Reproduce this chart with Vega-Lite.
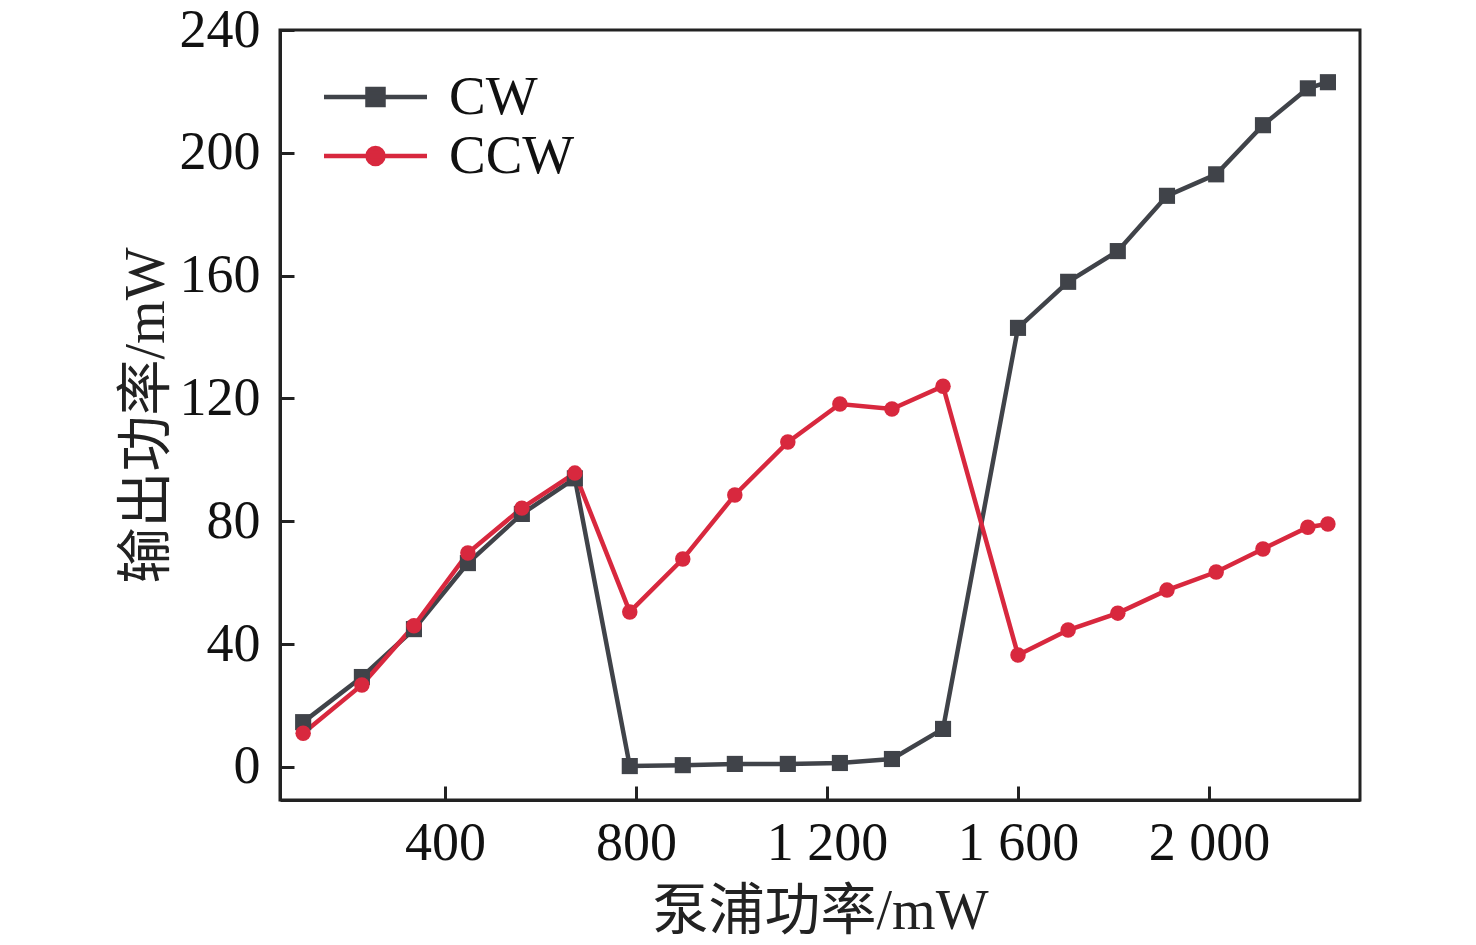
{
  "$schema": "https://vega.github.io/schema/vega-lite/v6.json",
  "autosize": "none",
  "width": 1080,
  "height": 770,
  "padding": {"left": 280, "top": 30, "right": 116, "bottom": 145},
  "background": "white",
  "config": {
    "view": {"stroke": "#222222", "strokeWidth": 3},
    "axis": {
      "labelFont": "Liberation Serif",
      "labelFontSize": 54,
      "labelColor": "#111111",
      "titleFont": "Liberation Serif, Noto Sans CJK SC",
      "titleFontSize": 56,
      "titleFontWeight": "normal",
      "titleColor": "#222222",
      "domainColor": "#222222",
      "domainWidth": 3,
      "tickColor": "#222222",
      "tickWidth": 3,
      "grid": false
    },
    "legend": {
      "labelFont": "Liberation Serif",
      "labelFontSize": 55,
      "labelColor": "#111111",
      "padding": 0
    }
  },
  "data": {
    "values": [
      {"x": 103, "y": 14.6, "series": "CW"},
      {"x": 226, "y": 29.3, "series": "CW"},
      {"x": 335, "y": 44.9, "series": "CW"},
      {"x": 448, "y": 66.4, "series": "CW"},
      {"x": 561, "y": 82.4, "series": "CW"},
      {"x": 672, "y": 94.0, "series": "CW"},
      {"x": 787, "y": 0.3, "series": "CW"},
      {"x": 898, "y": 0.6, "series": "CW"},
      {"x": 1007, "y": 1.0, "series": "CW"},
      {"x": 1118, "y": 1.0, "series": "CW"},
      {"x": 1227, "y": 1.3, "series": "CW"},
      {"x": 1336, "y": 2.6, "series": "CW"},
      {"x": 1443, "y": 12.4, "series": "CW"},
      {"x": 1600, "y": 143.0, "series": "CW"},
      {"x": 1705, "y": 158.0, "series": "CW"},
      {"x": 1809, "y": 168.0, "series": "CW"},
      {"x": 1912, "y": 186.0, "series": "CW"},
      {"x": 2015, "y": 193.0, "series": "CW"},
      {"x": 2113, "y": 209.0, "series": "CW"},
      {"x": 2207, "y": 221.0, "series": "CW"},
      {"x": 2249, "y": 223.0, "series": "CW"},
      {"x": 103, "y": 11.0, "series": "CCW"},
      {"x": 226, "y": 26.7, "series": "CCW"},
      {"x": 335, "y": 46.0, "series": "CCW"},
      {"x": 448, "y": 69.7, "series": "CCW"},
      {"x": 561, "y": 84.3, "series": "CCW"},
      {"x": 672, "y": 95.7, "series": "CCW"},
      {"x": 787, "y": 50.5, "series": "CCW"},
      {"x": 898, "y": 67.7, "series": "CCW"},
      {"x": 1007, "y": 88.6, "series": "CCW"},
      {"x": 1118, "y": 105.8, "series": "CCW"},
      {"x": 1227, "y": 118.2, "series": "CCW"},
      {"x": 1336, "y": 116.6, "series": "CCW"},
      {"x": 1443, "y": 124.0, "series": "CCW"},
      {"x": 1600, "y": 36.5, "series": "CCW"},
      {"x": 1705, "y": 44.6, "series": "CCW"},
      {"x": 1809, "y": 50.1, "series": "CCW"},
      {"x": 1912, "y": 57.6, "series": "CCW"},
      {"x": 2015, "y": 63.5, "series": "CCW"},
      {"x": 2113, "y": 71.0, "series": "CCW"},
      {"x": 2207, "y": 78.1, "series": "CCW"},
      {"x": 2249, "y": 79.1, "series": "CCW"}
    ]
  },
  "encoding": {
    "x": {
      "field": "x",
      "type": "quantitative",
      "scale": {"domain": [54.5, 2316.2], "nice": false, "zero": false},
      "axis": {
        "title": "泵浦功率/mW",
        "values": [400, 800, 1200, 1600, 2000],
        "labelExpr": "datum.value >= 1000 ? floor(datum.value / 1000) + ' ' + format(datum.value % 1000, '03d') : datum.label",
        "tickSize": -14,
        "labelPadding": 30,
        "titlePadding": 14
      }
    },
    "y": {
      "field": "y",
      "type": "quantitative",
      "scale": {"domain": [-10.75, 240], "nice": false, "zero": false},
      "axis": {
        "title": "输出功率/mW",
        "values": [0, 40, 80, 120, 160, 200, 240],
        "tickSize": -14,
        "labelPadding": 34,
        "titlePadding": 4
      }
    },
    "color": {
      "field": "series",
      "type": "nominal",
      "scale": {"domain": ["CW", "CCW"], "range": ["#404349", "#d8283e"]}
    }
  },
  "layer": [
    {
      "mark": {"type": "line", "strokeWidth": 4.5},
      "encoding": {
        "color": {
          "field": "series",
          "type": "nominal",
          "legend": {
            "title": null,
            "orient": "none",
            "legendX": 68,
            "legendY": 39.5,
            "symbolSize": 1600,
            "labelOffset": 46,
            "rowPadding": 3,
            "encode": {
              "symbols": {
                "update": {
                  "shape": {"signal": "datum.value === 'CW' ? 'M-2.575,0H2.575M-0.4,-0.4H0.4V0.4H-0.4Z' : 'M-2.575,0H2.575M0.4,0A0.4,0.4,0,1,1,-0.4,0A0.4,0.4,0,1,1,0.4,0Z'"},
                  "fill": {"signal": "datum.value === 'CW' ? '#404349' : '#d8283e'"},
                  "stroke": {"signal": "datum.value === 'CW' ? '#404349' : '#d8283e'"},
                  "strokeWidth": {"value": 4.5},
                  "opacity": {"value": 1},
                  "fillOpacity": {"value": 1},
                  "strokeOpacity": {"value": 1}
                }
              }
            }
          }
        },
        "detail": {"field": "series"}
      }
    },
    {
      "transform": [{"filter": "datum.series === 'CW'"}],
      "mark": {"type": "point", "filled": true, "opacity": 1, "size": 260, "shape": "square"},
      "encoding": {
        "color": {"field": "series", "type": "nominal", "legend": null}
      }
    },
    {
      "transform": [{"filter": "datum.series === 'CCW'"}],
      "mark": {"type": "point", "filled": true, "opacity": 1, "size": 240, "shape": "circle"},
      "encoding": {
        "color": {"field": "series", "type": "nominal", "legend": null}
      }
    }
  ]
}
